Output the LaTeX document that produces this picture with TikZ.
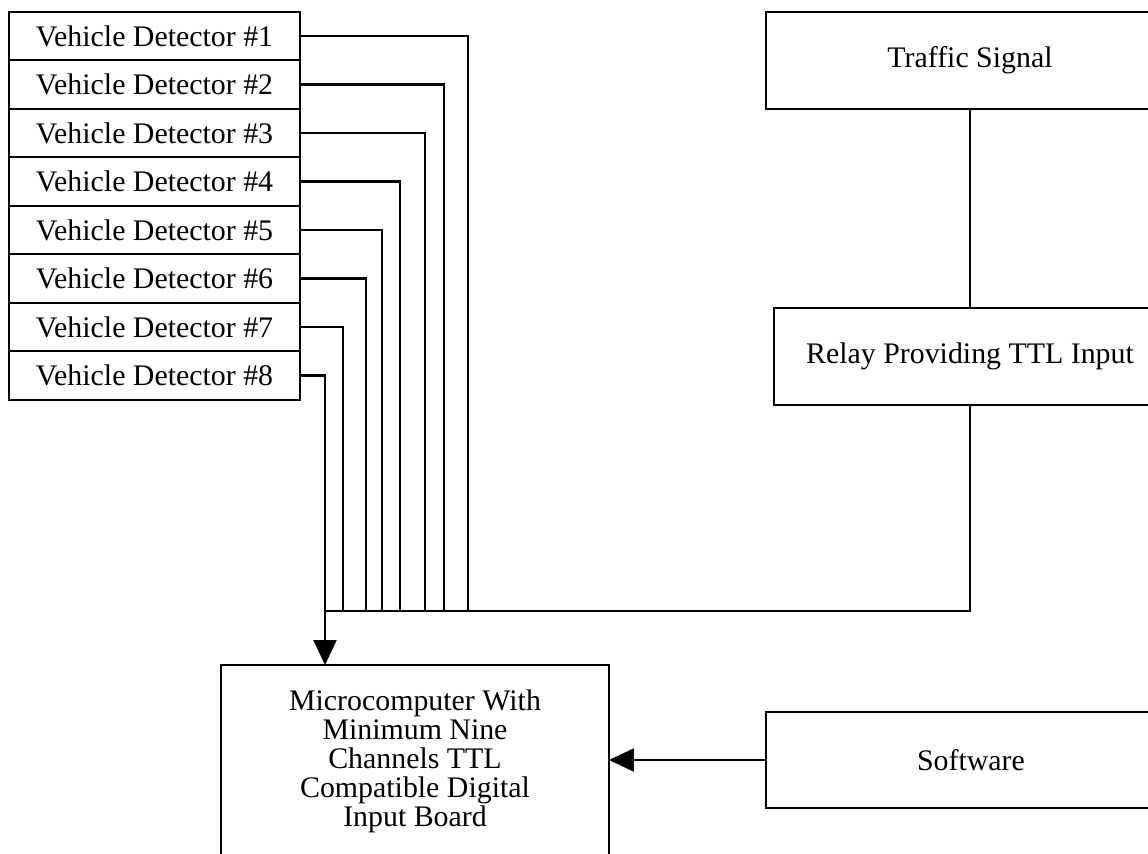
\documentclass[tikz,border=0pt]{standalone}
\usepackage{fontspec}
\setmainfont{Liberation Serif}
\usetikzlibrary{arrows.meta,positioning}

\begin{document}
\begin{tikzpicture}[
    x = 0.02cm, y = -0.02cm, % one unit per pixel, y going down
    > = {Triangle[length=5mm,width=4.6mm]}, % arrow head style
    line width = 1.3pt, % line style
    font = \fontsize{17}{16.5}\selectfont
    ]

    \tikzset{detector/.style={
    draw = black,
    fill = white,
    inner sep = 0pt,
    outer sep = 0pt,
    minimum width = 5.82cm,
    minimum height = 0.97cm
    }}
    \tikzset{unit/.style={
    draw = black,
    inner sep = 0pt,
    outer sep = 0pt,
    align = center
    }}

    \useasboundingbox (0,0) rectangle (1148,853);
    \clip (0,0) rectangle (1148,853);

    \node[detector] (d1) at (154.5,36) {Vehicle Detector \#1};
    \node[detector] (d2) [below=0pt of d1] {Vehicle Detector \#2};
    \node[detector] (d3) [below=0pt of d2] {Vehicle Detector \#3};
    \node[detector] (d4) [below=0pt of d3] {Vehicle Detector \#4};
    \node[detector] (d5) [below=0pt of d4] {Vehicle Detector \#5};
    \node[detector] (d6) [below=0pt of d5] {Vehicle Detector \#6};
    \node[detector] (d7) [below=0pt of d6] {Vehicle Detector \#7};
    \node[detector] (d8) [below=0pt of d7] {Vehicle Detector \#8};

    \node[unit, minimum width=8.16cm, minimum height=1.94cm] (signal) at (970,60.5) {Traffic Signal};
    \node[unit, minimum width=7.84cm, minimum height=1.94cm] (relay) at (970,356.5) {Relay Providing TTL Input};
    \node[unit, minimum width=8.2cm, minimum height=1.92cm] (soft) at (971,760) {Software};
    \node[unit, minimum width=7.76cm, minimum height=3.86cm] (micro) at (415,761.5)
        {Microcomputer With\\Minimum Nine\\Channels TTL\\Compatible Digital\\Input Board};

    % bus taps
    \coordinate (b1) at (468,611);
    \coordinate (b2) at (444,611);
    \coordinate (b3) at (425,611);
    \coordinate (b4) at (400,611);
    \coordinate (b5) at (382,611);
    \coordinate (b6) at (366,611);
    \coordinate (b7) at (343,611);
    \coordinate (b8) at (325,611);

    \draw (d1.east) -| (b1);
    \draw (d2.east) -| (b2);
    \draw (d3.east) -| (b3);
    \draw (d4.east) -| (b4);
    \draw (d5.east) -| (b5);
    \draw (d6.east) -| (b6);
    \draw (d7.east) -| (b7);
    \draw (d8.east) -| (b8);

    \draw[line width=1pt] (signal.south) -- (relay.north);
    \draw (relay.south) |- (b8);
    \draw[->] (b8) -- (b8 |- micro.north);
    \draw[->] (soft.west) -- (soft.west -| micro.east);
\end{tikzpicture}
\end{document}
